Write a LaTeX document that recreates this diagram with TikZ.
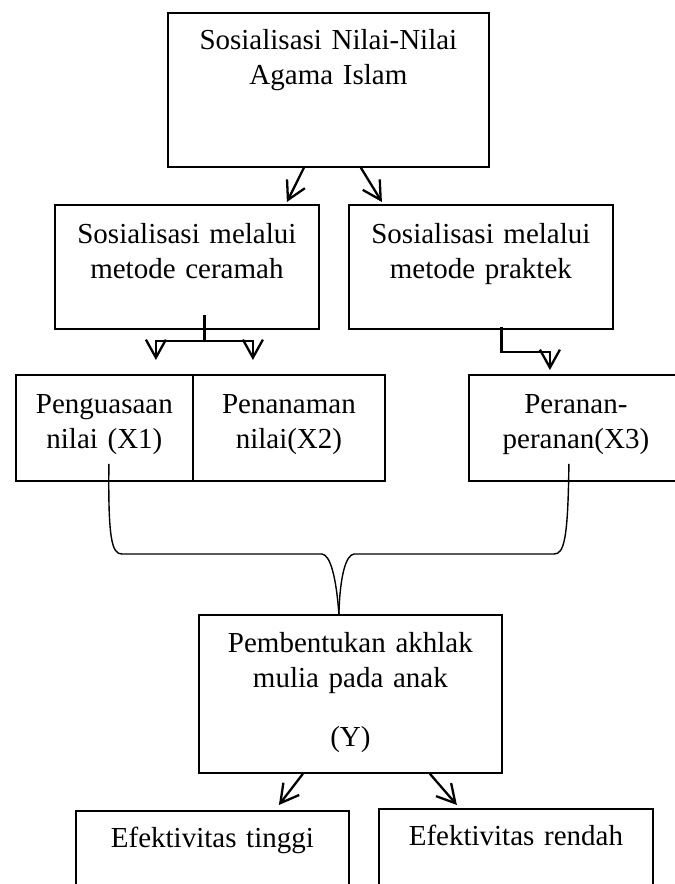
\documentclass[tikz,border=0pt]{standalone}
\usepackage{fontspec}
\setmainfont{Liberation Serif}
\usetikzlibrary{calc, arrows.meta}

\begin{document}
\begin{tikzpicture}[x=0.5pt, y=-0.5pt,
  box/.style={draw, line width=0.9pt, anchor=north west, align=center, inner sep=0pt,
    font=\fontsize{14.5}{17.25}\selectfont},
  arr/.style={line width=1.15pt, -{Straight Barb[length=9pt, width=10pt]}},
  link/.style={line width=1.15pt},
  brace/.style={line width=0.7pt}]
  \useasboundingbox (0,0) rectangle (675,884);

  % top box
  \node[box, text width=160.5pt, text height=18.5pt, text depth=58.5pt] (sos) at (167,12)
    {Sosialisasi Nilai-Nilai\\Agama Islam};
  % methods
  \node[box, text width=132pt, text height=19.5pt, text depth=42.5pt] (cer) at (54,204)
    {Sosialisasi melalui\\metode ceramah};
  \node[box, text width=132pt, text height=19.5pt, text depth=42.5pt] (prak) at (348,204)
    {Sosialisasi melalui\\metode praktek};
  % variables
  \node[box, text width=88.5pt, text height=19.5pt, text depth=33.5pt] (x1) at (15,374)
    {Penguasaan\\nilai (X1)};
  \node[box, text width=96pt, text height=19.5pt, text depth=33.5pt] (x2) at (192,374)
    {Penanaman\\nilai(X2)};
  \node[box, text width=107pt, text height=19.5pt, text depth=33.5pt] (x3) at (468,374)
    {Peranan-\\peranan(X3)};
  % result
  \node[box, text width=151.5pt, text height=19pt, text depth=60pt] (y) at (198,614)
    {Pembentukan akhlak\\mulia pada anak\\[12.5pt](Y)};
  \node[box, text width=136.5pt, text height=18.5pt, text depth=26.5pt] (hi) at (75,810)
    {Efektivitas tinggi};
  \node[box, text width=137pt, text height=18.5pt, text depth=27.5pt] (lo) at (378,808)
    {Efektivitas rendah};

  % top arrows
  \draw[arr] ($(sos.south)+(-24.5,0)$) -- ($(cer.north)+(100,-2)$);
  \draw[arr] ($(sos.south)+(32.5,0)$) -- ($(prak.north)+(-99,-2)$);

  % ceramah split
  \coordinate (j1) at ($(cer.south)+(17.6,11)$);
  \draw[link] ($(cer.south)+(17.6,-15)$) -- (j1);
  \draw[arr] (j1) -| ($(x1.north)+(51.5,-14)$);
  \draw[arr] (j1) -| ($(x2.north)+(-36,-14)$);

  % praktek elbow
  \coordinate (j2) at ($(prak.south)+(20.6,22)$);
  \draw[arr] ($(prak.south)+(20.6,-3)$) -- (j2) -| ($(x3.north)+(-26,-4)$);

  % brace to Y
  \draw[brace] ($(x1.south)+(4.5,-18)$) .. controls (108,540) and (112,554) .. (122,554)
    -- (322,554) .. controls (330,555) and (336,575) .. ($(y.north)+(-11.5,0)$);
  \draw[brace] ($(x3.south)+(-7,-18)$) .. controls (568,540) and (564,554) .. (554,554)
    -- (354,554) .. controls (346,555) and (340,575) .. ($(y.north)+(-11.5,0)$);

  % bottom arrows
  \draw[arr] ($(y.south)+(-47.5,0)$) -- ($(hi.north)+(66.5,-5)$);
  \draw[arr] ($(y.south)+(79.5,0)$) -- ($(lo.north)+(-59,-3)$);
\end{tikzpicture}
\end{document}
